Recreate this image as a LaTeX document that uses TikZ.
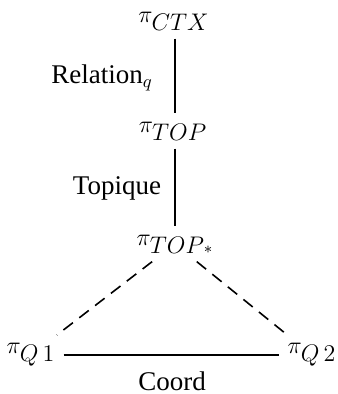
\documentclass[tikz,border=0pt]{standalone}
\usepackage{fontspec}
\setmainfont{Liberation Serif}
\usetikzlibrary{positioning}
\newcommand{\proj}[1]{$\pi_{\textstyle #1}$}
\tikzset{
  proj/.style={inner sep=4pt,font=\fontsize{12}{14}\selectfont},
  lbl/.style={inner sep=0pt,font=\fontsize{13.5}{16}\selectfont},
  link/.style={line width=0.8pt},
  weak/.style={line width=0.8pt,dash pattern=on 6pt off 4pt}
}
\begin{document}
\begin{tikzpicture}[x=0.5pt,y=-0.5pt]
  \useasboundingbox (0,0) rectangle (337,394);
  % projections
  \node[proj] (ctx)  at (174,21)  {\proj{CTX}};
  \node[proj] (top)  at (173,131) {\proj{TOP}};
  \node[proj] (tops) at (175,244) {\proj{TOP\mathord{\scriptstyle *}}};
  \node[proj] (q1)   at (31,355)  {\proj{Q\,1}};
  \node[proj] (q2)   at (312,355) {\proj{Q\,2}};
  % relations
  \draw[link] (ctx.south -| 175,0) -- (top.north -| 175,0);
  \draw[link] (top.south -| 175,0) -- (tops.north -| 175,0);
  \draw[weak] (tops) -- (q1);
  \draw[weak] (tops) -- (q2);
  \draw[link] (q1) -- (q2);
  % labels
  \node[lbl] (rel) at (102,78)  {Relation$_q$};
  \node[lbl] (tpq) at (117,188) {Topique};
  \node[lbl] (crd) at (172,381) {Coord};
\end{tikzpicture}
\end{document}
